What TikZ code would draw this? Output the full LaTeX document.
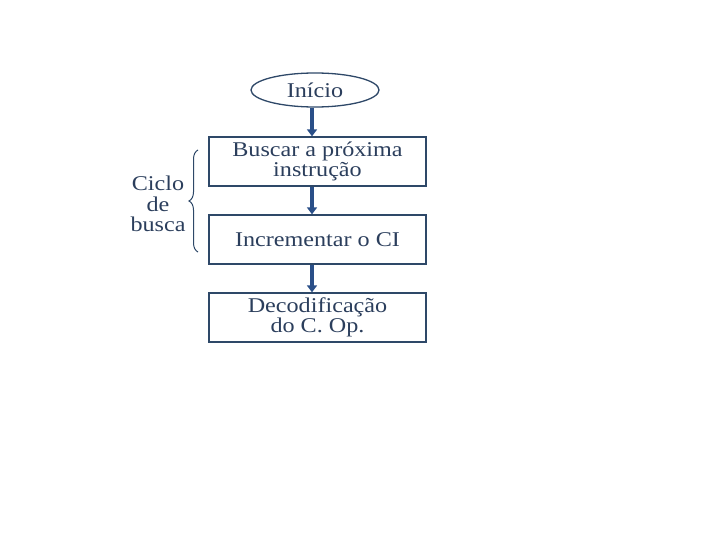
\documentclass[tikz,border=0pt]{standalone}
\usepackage{fontspec}
\setmainfont{Liberation Serif}
\newfontfamily\widefont[FakeStretch=1.15]{Liberation Serif}
\usetikzlibrary{shapes.geometric,decorations.pathreplacing,arrows.meta}
\definecolor{txt}{HTML}{2B3E5C}
\definecolor{edge}{HTML}{2E4868}
\definecolor{arr}{HTML}{2A4F88}
\begin{document}
\begin{tikzpicture}[x=1pt,y=-1pt,
  stepbox/.style={draw=edge,line width=1.3pt,minimum width=217pt,minimum height=49pt,inner sep=0pt,align=center,text=txt,font=\widefont\fontsize{21}{19.5}\selectfont},
  startnode/.style={draw=edge,ellipse,line width=1.3pt,minimum width=128pt,minimum height=34pt,inner sep=0pt,text=txt,font=\widefont\fontsize{21}{19.5}\selectfont},
  flow/.style={draw=arr,line width=3.5pt,-{Triangle[length=7pt,width=10pt]}}]
\useasboundingbox (0,0) rectangle (720,540);
\node[startnode] (ini) at (315,90) {Início};
\node[stepbox] (b1) at (317.5,161.5) {Buscar a próxima\\instrução};
\node[stepbox] (b2) at (317.5,239.5) {Incrementar o CI};
\node[stepbox] (b3) at (317.5,317.5) {Decodificação\\do C. Op.};
\draw[flow] (ini.south -| 312,0) -- (b1.north -| 312,0);
\draw[flow] (b1.south -| 312,0) -- (b2.north -| 312,0);
\draw[flow] (b2.south -| 312,0) -- (b3.north -| 312,0);
\coordinate (bt) at (198,150);
\coordinate (bb) at (198,252);
\draw[edge,line width=1pt,decorate,decoration={brace,amplitude=9pt,mirror}] (bt) -- (bb);
\node[text=txt,align=center,font=\widefont\fontsize{21}{20.5}\selectfont] (lbl) at (158,204) {Ciclo\\de\\busca};
\end{tikzpicture}
\end{document}
